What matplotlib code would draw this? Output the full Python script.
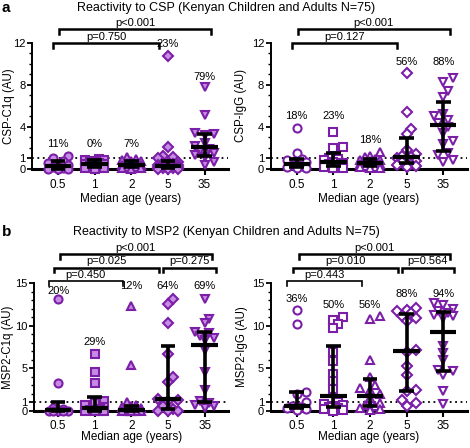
import numpy as np
import matplotlib.pyplot as plt
from matplotlib.ticker import FixedLocator, MultipleLocator

plt.rcParams['font.family'] = ['Liberation Sans', 'DejaVu Sans']

# categorias (idade mediana) e marcadores de cada grupo
idades = ['0.5', '1', '2', '5', '35']
marcadores = ['o', 's', '^', 'D', 'v']

# dados (AU)
csp_c1q = [
    [1.25, 1.0, 0.75, 0.6, 0.4, 0.3, 0.15, 0.05, 0.0, 0.0, 0.0],
    [0.95, 0.9, 0.85, 0.8, 0.7, 0.6, 0.5, 0.45, 0.4, 0.3, 0.2, 0.1, 0.05, 0.0],
    [1.1, 0.95, 0.9, 0.8, 0.75, 0.6, 0.5, 0.4, 0.35, 0.3, 0.2, 0.15, 0.1, 0.05, 0.0],
    [10.7, 2.1, 1.25, 1.1, 1.05, 0.65, 0.55, 0.5, 0.45, 0.4, 0.35, 0.3, 0.3, 0.25,
     0.2, 0.2, 0.15, 0.1, 0.05, 0.0, 0.0, 0.0],
    [7.8, 5.1, 3.4, 3.3, 3.2, 2.5, 2.2, 1.9, 1.7, 1.5, 1.3, 1.1, 0.7, 0.4],
]
csp_igg = [
    [3.9, 1.5, 0.95, 0.85, 0.7, 0.5, 0.4, 0.3, 0.2, 0.1, 0.05],
    [3.5, 2.05, 1.95, 1.0, 0.95, 0.9, 0.7, 0.6, 0.45, 0.3, 0.2, 0.1, 0.05],
    [1.6, 1.2, 1.1, 0.95, 0.9, 0.85, 0.8, 0.7, 0.6, 0.5, 0.45, 0.4, 0.3, 0.2, 0.15, 0.1, 0.05],
    [9.1, 5.4, 3.8, 3.3, 1.8, 1.4, 1.2, 1.15, 1.05, 0.95, 0.8, 0.7, 0.5, 0.4, 0.3, 0.2],
    [8.6, 8.3, 7.4, 6.8, 5.2, 5.0, 4.7, 4.4, 4.0, 3.4, 2.7, 2.4, 1.5, 1.3, 0.9, 0.7],
]
msp2_c1q = [
    [13.1, 3.2, 0.3, 0.2, 0.1, 0.0, 0.0, 0.0, 0.0, 0.0],
    [6.7, 4.5, 3.3, 1.1, 0.9, 0.6, 0.4, 0.2, 0.1, 0.05, 0.0, 0.0, 0.0, 0.0],
    [12.3, 5.4, 1.0, 0.6, 0.5, 0.4, 0.3, 0.2, 0.1, 0.05, 0.0, 0.0, 0.0, 0.0, 0.0, 0.0, 0.0],
    [13.1, 12.6, 10.3, 6.7, 4.0, 3.4, 1.4, 1.2, 1.1, 0.5, 0.2, 0.0, 0.0, 0.0],
    [13.1, 10.8, 10.3, 9.3, 9.1, 8.8, 8.5, 8.3, 7.1, 4.5, 2.4, 1.1, 0.9, 0.7, 0.5, 0.3],
]
msp2_igg = [
    [11.9, 10.2, 2.15, 2.0, 1.0, 0.55, 0.5, 0.4, 0.3, 0.2, 0.1],
    [11.0, 10.7, 10.2, 9.7, 6.9, 5.8, 4.3, 3.5, 2.5, 1.0, 0.8, 0.6, 0.5, 0.4, 0.3, 0.2, 0.1, 0.0],
    [11.2, 10.8, 5.9, 4.0, 3.0, 2.6, 2.4, 1.9, 1.5, 0.9, 0.7, 0.6, 0.5, 0.3, 0.2, 0.1],
    [12.1, 11.9, 11.7, 11.5, 11.2, 10.9, 10.5, 7.1, 6.9, 5.2, 4.2, 2.4, 2.3, 1.2, 0.9, 0.5],
    [12.7, 12.4, 12.0, 11.7, 11.5, 11.3, 11.1, 10.9, 7.6, 6.8, 6.0, 4.8, 4.6, 4.2, 2.3, 0.8],
]

# percentuais acima do limiar
pct_csp_c1q = ['11%', '0%', '7%', '23%', '79%']
pct_csp_igg = ['18%', '23%', '18%', '56%', '88%']
pct_msp2_c1q = ['20%', '29%', '12%', '64%', '69%']
pct_msp2_igg = ['36%', '50%', '56%', '88%', '94%']

# comparacoes (grupo inicial, grupo final, texto)
comp_csp_c1q = [(0, 4, 'p<0.001'), (0, 3, 'p=0.750')]
comp_csp_igg = [(0, 4, 'p<0.001'), (0, 3, 'p=0.127')]
comp_msp2_c1q = [(0, 4, 'p<0.001'), (0, 3, 'p=0.025'), (3, 4, 'p=0.275'), (0, 2, 'p=0.450')]
comp_msp2_igg = [(0, 4, 'p<0.001'), (0, 3, 'p=0.010'), (3, 4, 'p=0.564'), (0, 2, 'p=0.443')]

roxo = '#7B1FA8'
px_x = 36.65  # pixels por categoria


def espalhar(valores, px_y, diam=8.0):
    # beeswarm simples: desloca pontos que se sobrepoem
    ordem = np.argsort(valores)
    pos = []
    xs = np.zeros(len(valores))
    for i in ordem:
        y = valores[i] * px_y
        melhor, dmelhor = 0, -1
        for k in [0, 1, -1, 2, -2]:
            x = k * diam * 0.6
            d = min([np.hypot(x - a, y - b) for a, b in pos] + [99])
            if d >= diam * 0.8:
                melhor = x
                break
            if d > dmelhor:
                melhor, dmelhor = x, d
        pos.append((melhor, y))
        xs[i] = melhor / px_x
    return xs


def painel(ax, dados, pcts, pct_y, comps, comp_y, ymax, yticks, ylabel, fundo, px_y, lab_x,
           xlab_y, xmin=-0.7):
    for g, vals in enumerate(dados):
        vals = np.array(vals)
        dx = espalhar(vals, px_y)
        ms = 4.9 if marcadores[g] == 'D' else 5.8
        ax.plot(g + dx, vals, linestyle='none', marker=marcadores[g], ms=ms,
                mfc=fundo, mec=roxo, mew=1.5, clip_on=False, zorder=3)
        q1, med, q3 = np.percentile(vals, [25, 50, 75], method='weibull')
        ax.plot([g, g], [q1, q3], color='black', lw=2.6, zorder=4, clip_on=False,
                solid_capstyle='butt')
        for q in (q1, q3):
            ax.plot([g - 0.2, g + 0.2], [q, q], color='black', lw=2.6, zorder=4,
                    clip_on=False, solid_capstyle='butt')
        ax.plot([g - 0.36, g + 0.36], [med, med], color='black', lw=3, zorder=4,
                clip_on=False, solid_capstyle='butt')
        ax.text(g, pct_y[g], pcts[g], ha='center', va='center', fontsize=8)

    ax.axhline(1, color='black', ls=(0, (1, 2)), lw=1.3, zorder=2)

    # barras de significancia
    for (a, b, txt), y in zip(comps, comp_y):
        x0, x1, lw = bracket_x[(a, b)]
        tick = 4.5 / px_y
        ax.plot([x0, x0, x1, x1], [y - tick, y, y, y - tick], color='black', lw=lw,
                clip_on=False, solid_joinstyle='miter')
        ax.text((x0 + x1) / 2, y + 1.5 / px_y, txt, ha='center', va='bottom', fontsize=8)

    ax.set_xlim(xmin, 4.65)
    ax.set_ylim(0, ymax)
    ax.set_xticks(range(5))
    ax.set_xticklabels(idades, fontsize=8.5)
    ax.yaxis.set_major_locator(FixedLocator(yticks))
    ax.yaxis.set_minor_locator(MultipleLocator(1))
    ax.tick_params(axis='y', which='major', length=3.5, width=1.3, labelsize=8, pad=1.5)
    ax.tick_params(axis='y', which='minor', length=2, width=1)
    ax.tick_params(axis='x', length=4, width=1.5, pad=3)
    ax.spines['top'].set_visible(False)
    ax.spines['right'].set_visible(False)
    ax.spines['left'].set_linewidth(1.4)
    ax.spines['bottom'].set_linewidth(2.2)
    ax.set_ylabel(ylabel, fontsize=8.3)
    ax.yaxis.set_label_coords(lab_x, 0.5)
    ax.set_xlabel('Median age (years)', fontsize=8.5)
    ax.xaxis.set_label_coords(0.5, xlab_y)


bracket_x = {}

fig = plt.figure(figsize=(4.7, 4.48), dpi=100)

esq, dir_, larg = 32.4 / 470, 271.1 / 470, 196 / 470
ax1 = fig.add_axes([esq, 0.6228, larg, 0.2819])
ax2 = fig.add_axes([dir_, 0.6228, larg, 0.2819])
ax3 = fig.add_axes([34.3 / 470, 0.0837, 194.1 / 470, 0.2839])
ax4 = fig.add_axes([dir_, 0.0837, larg, 0.2839])

bracket_x = {(0, 4): (0.03, 4.17, 1.8), (0, 3): (-0.13, 2.75, 1.8)}
painel(ax1, csp_c1q, pct_csp_c1q, [2.38, 2.38, 2.38, 11.9, 8.76], comp_csp_c1q, [13.27, 11.97],
       12, [0, 1, 4, 8, 12], 'CSP-C1q (AU)', '#C68BE3', 10.525, -0.088, -0.19)
painel(ax2, csp_igg, pct_csp_igg, [5.07, 5.07, 2.76, 10.2, 10.2], comp_csp_igg, [13.27, 11.97],
       12, [0, 1, 4, 8, 12], 'CSP-IgG (AU)', 'white', 10.525, -0.125, -0.19)

bracket_x = {(0, 4): (0.05, 4.19, 1.8), (0, 3): (-0.11, 2.76, 1.8),
             (3, 4): (2.86, 4.3, 1.8), (0, 2): (-0.26, 1.77, 1.2)}
painel(ax3, msp2_c1q, pct_msp2_c1q, [14.1, 8.06, 14.7, 14.7, 14.7], comp_msp2_c1q,
       [18.42, 16.84, 16.84, 15.27], 15, [0, 1, 5, 10, 15], 'MSP2-C1q (AU)', '#C68BE3', 8.48,
       -0.106, -0.16, xmin=-0.65)
painel(ax4, msp2_igg, pct_msp2_igg, [13.2, 12.4, 12.4, 13.7, 13.7], comp_msp2_igg,
       [18.42, 16.84, 16.84, 15.27], 15, [0, 1, 5, 10, 15], 'MSP2-IgG (AU)', 'white', 8.48,
       -0.12, -0.16)

fig.text(226 / 470, 1 - 8 / 448, 'Reactivity to CSP (Kenyan Children and Adults N=75)',
         ha='center', va='center', fontsize=9)
fig.text(226 / 470, 1 - 232 / 448, 'Reactivity to MSP2 (Kenyan Children and Adults N=75)',
         ha='center', va='center', fontsize=9)
fig.text(2 / 470, 1 - 8 / 448, 'a', ha='left', va='center', fontsize=11, fontweight='bold')
fig.text(2 / 470, 1 - 232 / 448, 'b', ha='left', va='center', fontsize=11, fontweight='bold')

fig.savefig('out.png', dpi=100)
